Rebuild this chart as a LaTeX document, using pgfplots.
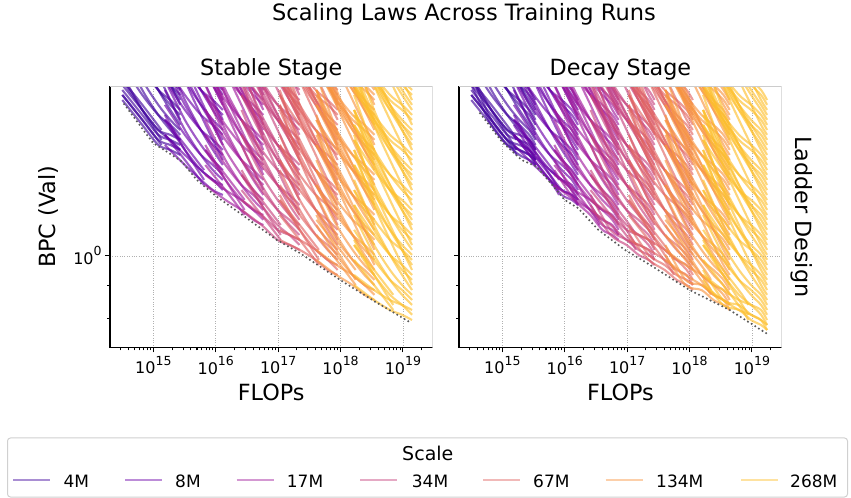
\documentclass[border=0pt]{standalone}
\usepackage{fontspec}
\setmainfont{DejaVu Sans}
\usepackage{pgfplots}
\usepackage{pgfplotstable}
\pgfplotsset{compat=1.18}

\definecolor{cA}{HTML}{41049D}
\definecolor{cB}{HTML}{6A00A8}
\definecolor{cC}{HTML}{A01A9C}
\definecolor{cD}{HTML}{C6417D}
\definecolor{cE}{HTML}{E16462}
\definecolor{cF}{HTML}{F89540}
\definecolor{cG}{HTML}{FDBF2C}
\definecolor{spine}{HTML}{CCCCCC}
\definecolor{gridc}{HTML}{B0B0B0}
\definecolor{legb}{HTML}{D0D0D0}

\newcommand\tp[1]{10\raisebox{0.56em}{\fontsize{12.5bp}{12.5bp}\selectfont #1}}

% ---------- 4M ----------
\pgfplotstableread{
F r1 r2 r3 r4 r5 r6 r7 r8 r9 r10 r11 h1 h2
3.18e14 1.748 1.878 1.812 2.091 1.982 2.370 2.287 2.785 2.287 1.780 1.845 1.845 1.912
6.65e14 1.599 1.687 1.657 1.812 1.780 2.018 1.982 2.287 2.054 1.628 1.687 1.599 1.628
1.2e15 1.488 1.570 1.543 1.657 1.657 1.812 1.812 2.018 1.912 1.515 1.570 1.488 1.515
1.87e15 1.462 1.515 1.515 1.570 1.599 1.687 1.718 1.845 1.845 1.488 1.543 1.436 1.462
2.7e15 1.436 1.462 1.488 1.515 1.543 1.599 1.657 1.718 1.780 1.462 1.515 1.410 1.436
3.4e15 1.385 1.410 1.436 1.462 1.488 1.543 1.599 1.657 1.718 1.410 1.462 1.385 1.410
}\TA
\pgfplotstableread{
F n1 n2 n3 n4 n5
3.18e14 2.167 2.639 2.167 2.592 2.501
6.65e14 1.878 2.167 1.947 2.207 2.167
1.2e15 1.718 1.912 1.812 1.982 1.982
1.87e15 1.628 1.748 1.748 1.845 1.878
2.7e15 1.570 1.628 1.687 1.748 1.812
3.4e15 1.515 1.570 1.628 1.687 1.748
}\NA
\pgfplotstableread{
F a b c
3.18e14 1.780 1.912 1.878
6.65e14 1.628 1.687 1.718
1.35e15 1.488 1.515 1.570
1.69e15 1.436 1.462 1.515
}\SA
% ---------- 8M ----------
\pgfplotstableread{
F r1 r2 r3 r4 r5 r6 r7 r8 r9 r10 r11 r12 r13 h1 h2
1.53e15 1.488 1.628 1.543 1.812 1.718 2.054 1.982 2.413 1.982 2.370 2.287 2.785 2.639 1.543 1.599
3.2e15 1.385 1.462 1.436 1.570 1.543 1.748 1.718 1.982 1.780 2.018 1.982 2.287 2.246 1.410 1.436
5.78e15 1.313 1.360 1.360 1.436 1.436 1.570 1.570 1.748 1.657 1.812 1.812 2.018 2.018 1.313 1.337
9e15 1.266 1.313 1.313 1.360 1.385 1.462 1.488 1.599 1.599 1.687 1.718 1.845 1.878 1.244 1.266
1.3e16 1.244 1.266 1.289 1.313 1.337 1.385 1.436 1.488 1.543 1.599 1.657 1.718 1.780 1.222 1.244
1.63e16 1.200 1.222 1.244 1.266 1.289 1.337 1.385 1.436 1.488 1.543 1.599 1.657 1.718 1.200 1.222
}\TB
\pgfplotstableread{
F n1 n2 n3 n4 n5 n6 n7 n8 n9
1.53e15 1.878 2.287 1.878 2.246 2.167 2.639 2.167 2.592 2.501
3.2e15 1.628 1.878 1.687 1.912 1.878 2.167 1.947 2.207 2.167
5.78e15 1.488 1.657 1.570 1.718 1.718 1.912 1.812 1.982 1.982
9e15 1.410 1.515 1.515 1.599 1.628 1.748 1.748 1.845 1.878
1.3e16 1.360 1.410 1.462 1.515 1.570 1.628 1.687 1.748 1.812
1.63e16 1.313 1.360 1.410 1.462 1.515 1.570 1.628 1.687 1.748
}\NB
\pgfplotstableread{
F a b c
1.53e15 1.543 1.657 1.628
3.2e15 1.410 1.462 1.488
6.5e15 1.289 1.313 1.360
8.1e15 1.244 1.266 1.313
}\SB
% ---------- 17M ----------
\pgfplotstableread{
F r1 r2 r3 r4 r5 r6 r7 r8 r9 r10 r11 r12 r13 r14 r15 r16 h1 h2
6.8e15 1.289 1.462 1.337 1.628 1.543 1.845 1.780 2.167 1.780 2.129 2.054 2.501 2.370 2.129 2.370 2.886 1.360 1.410
1.43e16 1.222 1.313 1.266 1.410 1.385 1.570 1.543 1.780 1.599 1.812 1.780 2.054 2.018 1.912 2.054 2.370 1.222 1.244
2.58e16 1.179 1.222 1.222 1.289 1.289 1.410 1.410 1.570 1.488 1.628 1.628 1.812 1.812 1.780 1.878 2.091 1.158 1.179
4e16 1.138 1.179 1.179 1.222 1.244 1.313 1.337 1.436 1.436 1.515 1.543 1.657 1.687 1.718 1.780 1.912 1.098 1.117
5.8e16 1.117 1.138 1.158 1.179 1.200 1.244 1.289 1.337 1.385 1.436 1.488 1.543 1.599 1.657 1.718 1.780 1.078 1.098
7.3e16 1.078 1.098 1.117 1.138 1.158 1.200 1.244 1.289 1.337 1.385 1.436 1.488 1.543 1.599 1.657 1.718 1.059 1.078
}\TC
\pgfplotstableread{
F n1 n2 n3 n4 n5 n6 n7 n8 n9 n10 n11 n12
6.8e15 1.687 2.054 1.687 2.018 1.947 2.370 1.947 2.328 2.246 2.735 2.246 2.687
1.43e16 1.462 1.687 1.515 1.718 1.687 1.947 1.748 1.982 1.947 2.246 2.018 2.287
2.58e16 1.337 1.488 1.410 1.543 1.543 1.718 1.628 1.780 1.780 1.982 1.878 2.054
4e16 1.266 1.360 1.360 1.436 1.462 1.570 1.570 1.657 1.687 1.812 1.812 1.912
5.8e16 1.222 1.266 1.313 1.360 1.410 1.462 1.515 1.570 1.628 1.687 1.748 1.812
7.3e16 1.179 1.222 1.266 1.313 1.360 1.410 1.462 1.515 1.570 1.628 1.687 1.748
}\NC
\pgfplotstableread{
F a b c
6.8e15 1.385 1.488 1.462
1.43e16 1.266 1.313 1.337
2.9e16 1.158 1.179 1.222
3.6e16 1.117 1.138 1.179
}\SC
% ---------- 34M ----------
\pgfplotstableread{
F r1 r2 r3 r4 r5 r6 r7 r8 r9 r10 r11 r12 r13 r14 r15 r16 r17 r18 r19 h1 h2
2.59e16 1.179 1.337 1.222 1.488 1.410 1.687 1.628 1.982 1.628 1.947 1.878 2.287 2.167 1.947 2.167 2.639 2.501 2.413 2.328 1.200 1.244
5.42e16 1.117 1.200 1.158 1.289 1.266 1.436 1.410 1.628 1.462 1.657 1.628 1.878 1.845 1.748 1.878 2.167 2.129 2.091 2.091 1.078 1.098
9.8e16 1.059 1.117 1.098 1.179 1.179 1.289 1.289 1.436 1.360 1.488 1.488 1.657 1.657 1.628 1.718 1.912 1.912 1.912 1.947 1.040 1.059
1.52e17 1.040 1.078 1.078 1.117 1.138 1.200 1.222 1.313 1.313 1.385 1.410 1.515 1.543 1.570 1.628 1.748 1.780 1.812 1.878 1.004 1.022
2.2e17 1.022 1.040 1.059 1.078 1.098 1.138 1.179 1.222 1.266 1.313 1.360 1.410 1.462 1.515 1.570 1.628 1.687 1.748 1.812 0.986 1.004
2.75e17 0.986 1.004 1.022 1.040 1.059 1.098 1.138 1.179 1.222 1.266 1.313 1.360 1.410 1.462 1.515 1.570 1.628 1.687 1.748 0.968 0.986
}\TD
\pgfplotstableread{
F n1 n2 n3 n4 n5 n6 n7 n8 n9 n10 n11 n12 n13 n14
2.59e16 1.543 1.878 1.543 1.845 1.780 2.167 1.780 2.129 2.054 2.501 2.054 2.457 2.370 2.886
5.42e16 1.337 1.543 1.385 1.570 1.543 1.780 1.599 1.812 1.780 2.054 1.845 2.091 2.054 2.370
9.8e16 1.222 1.360 1.289 1.410 1.410 1.570 1.488 1.628 1.628 1.812 1.718 1.878 1.878 2.091
1.52e17 1.158 1.244 1.244 1.313 1.337 1.436 1.436 1.515 1.543 1.657 1.657 1.748 1.780 1.912
2.2e17 1.117 1.158 1.200 1.244 1.289 1.337 1.385 1.436 1.488 1.543 1.599 1.657 1.718 1.780
2.75e17 1.078 1.117 1.158 1.200 1.244 1.289 1.337 1.385 1.436 1.488 1.543 1.599 1.657 1.718
}\ND
\pgfplotstableread{
F a b c
2.59e16 1.266 1.360 1.337
5.42e16 1.158 1.200 1.222
1.1e17 1.059 1.078 1.117
1.38e17 1.022 1.040 1.078
}\SD
% ---------- 67M ----------
\pgfplotstableread{
F r1 r2 r3 r4 r5 r6 r7 r8 r9 r10 r11 r12 r13 r14 r15 r16 r17 r18 r19 r20 r21 h1 h2
1.06e17 1.059 1.222 1.098 1.360 1.289 1.543 1.488 1.812 1.488 1.780 1.718 2.091 1.982 1.780 1.982 2.413 2.287 2.207 2.129 2.785 2.639 1.078 1.117
2.22e17 1.022 1.098 1.059 1.179 1.158 1.313 1.289 1.488 1.337 1.515 1.488 1.718 1.687 1.599 1.718 1.982 1.947 1.912 1.912 2.287 2.246 0.986 1.004
4e17 0.986 1.022 1.022 1.078 1.078 1.179 1.179 1.313 1.244 1.360 1.360 1.515 1.515 1.488 1.570 1.748 1.748 1.748 1.780 2.018 2.018 0.951 0.968
6.2e17 0.951 0.986 0.986 1.022 1.040 1.098 1.117 1.200 1.200 1.266 1.289 1.385 1.410 1.436 1.488 1.599 1.628 1.657 1.718 1.845 1.878 0.918 0.934
9e17 0.934 0.951 0.968 0.986 1.004 1.040 1.078 1.117 1.158 1.200 1.244 1.289 1.337 1.385 1.436 1.488 1.543 1.599 1.657 1.718 1.780 0.901 0.918
1.13e18 0.901 0.918 0.934 0.951 0.968 1.004 1.040 1.078 1.117 1.158 1.200 1.244 1.289 1.337 1.385 1.436 1.488 1.543 1.599 1.657 1.718 0.885 0.901
}\TE
\pgfplotstableread{
F n1 n2 n3 n4 n5 n6 n7 n8 n9 n10 n11 n12 n13 n14 n15 n16 n17
1.06e17 1.410 1.718 1.410 1.687 1.628 1.982 1.628 1.947 1.878 2.287 1.878 2.246 2.167 2.639 2.167 2.592 2.501
2.22e17 1.222 1.410 1.266 1.436 1.410 1.628 1.462 1.657 1.628 1.878 1.687 1.912 1.878 2.167 1.947 2.207 2.167
4e17 1.117 1.244 1.179 1.289 1.289 1.436 1.360 1.488 1.488 1.657 1.570 1.718 1.718 1.912 1.812 1.982 1.982
6.2e17 1.059 1.138 1.138 1.200 1.222 1.313 1.313 1.385 1.410 1.515 1.515 1.599 1.628 1.748 1.748 1.845 1.878
9e17 1.022 1.059 1.098 1.138 1.179 1.222 1.266 1.313 1.360 1.410 1.462 1.515 1.570 1.628 1.687 1.748 1.812
1.13e18 0.986 1.022 1.059 1.098 1.138 1.179 1.222 1.266 1.313 1.360 1.410 1.462 1.515 1.570 1.628 1.687 1.748
}\NE
\pgfplotstableread{
F a b c
1.06e17 1.158 1.244 1.222
2.22e17 1.059 1.098 1.117
4.5e17 0.968 0.986 1.022
5.6e17 0.934 0.951 0.986
}\SE
% ---------- 134M ----------
\pgfplotstableread{
F r1 r2 r3 r4 r5 r6 r7 r8 r9 r10 r11 r12 r13 r14 r15 r16 r17 r18 r19 r20 r21 r22 r23 r24 h1 h2
4.1e17 0.986 1.117 1.022 1.244 1.179 1.410 1.360 1.657 1.360 1.628 1.570 1.912 1.812 1.628 1.812 2.207 2.091 2.018 1.947 2.546 2.413 2.328 2.246 2.687 1.004 1.040
8.6e17 0.934 1.004 0.968 1.078 1.059 1.200 1.179 1.360 1.222 1.385 1.360 1.570 1.543 1.462 1.570 1.812 1.780 1.748 1.748 2.091 2.054 2.018 2.018 2.287 0.901 0.918
1.56e18 0.901 0.934 0.934 0.986 0.986 1.078 1.078 1.200 1.138 1.244 1.244 1.385 1.385 1.360 1.436 1.599 1.599 1.599 1.628 1.845 1.845 1.845 1.878 2.054 0.885 0.901
2.42e18 0.870 0.901 0.901 0.934 0.951 1.004 1.022 1.098 1.098 1.158 1.179 1.266 1.289 1.313 1.360 1.462 1.488 1.515 1.570 1.687 1.718 1.748 1.812 1.912 0.854 0.870
3.5e18 0.854 0.870 0.885 0.901 0.918 0.951 0.986 1.022 1.059 1.098 1.138 1.179 1.222 1.266 1.313 1.360 1.410 1.462 1.515 1.570 1.628 1.687 1.748 1.812 0.839 0.854
4.4e18 0.824 0.839 0.854 0.870 0.885 0.918 0.951 0.986 1.022 1.059 1.098 1.138 1.179 1.222 1.266 1.313 1.360 1.410 1.462 1.515 1.570 1.628 1.687 1.748 0.824 0.839
}\TF
\pgfplotstableread{
F n1 n2 n3 n4 n5 n6 n7 n8 n9 n10 n11 n12 n13 n14 n15 n16 n17 n18 n19
4.1e17 1.289 1.570 1.289 1.543 1.488 1.812 1.488 1.780 1.718 2.091 1.718 2.054 1.982 2.413 1.982 2.370 2.287 2.785 2.287
8.6e17 1.117 1.289 1.158 1.313 1.289 1.488 1.337 1.515 1.488 1.718 1.543 1.748 1.718 1.982 1.780 2.018 1.982 2.287 2.054
1.56e18 1.022 1.138 1.078 1.179 1.179 1.313 1.244 1.360 1.360 1.515 1.436 1.570 1.570 1.748 1.657 1.812 1.812 2.018 1.912
2.42e18 0.968 1.040 1.040 1.098 1.117 1.200 1.200 1.266 1.289 1.385 1.385 1.462 1.488 1.599 1.599 1.687 1.718 1.845 1.845
3.5e18 0.934 0.968 1.004 1.040 1.078 1.117 1.158 1.200 1.244 1.289 1.337 1.385 1.436 1.488 1.543 1.599 1.657 1.718 1.780
4.4e18 0.901 0.934 0.968 1.004 1.040 1.078 1.117 1.158 1.200 1.244 1.289 1.337 1.385 1.436 1.488 1.543 1.599 1.657 1.718
}\NF
\pgfplotstableread{
F a b c
4.1e17 1.078 1.158 1.138
8.6e17 0.986 1.022 1.040
1.75e18 0.901 0.918 0.951
2.2e18 0.870 0.885 0.918
}\SF
% ---------- 268M ----------
\pgfplotstableread{
F r1 r2 r3 r4 r5 r6 r7 r8 r9 r10 r11 r12 r13 r14 r15 r16 r17 r18 r19 r20 r21 r22 r23 r24 r25 r26 h1 h2
1.65e18 0.901 1.040 0.934 1.158 1.098 1.313 1.266 1.543 1.266 1.515 1.462 1.780 1.687 1.515 1.687 2.054 1.947 1.878 1.812 2.370 2.246 2.167 2.091 2.501 2.835 2.501 0.918 0.951
3.45e18 0.854 0.934 0.885 1.004 0.986 1.117 1.098 1.266 1.138 1.289 1.266 1.462 1.436 1.360 1.462 1.687 1.657 1.628 1.628 1.947 1.912 1.878 1.878 2.129 2.328 2.167 0.839 0.854
6.2e18 0.824 0.870 0.854 0.918 0.918 1.004 1.004 1.117 1.059 1.158 1.158 1.289 1.289 1.266 1.337 1.488 1.488 1.488 1.515 1.718 1.718 1.718 1.748 1.912 2.054 1.982 0.824 0.839
9.7e18 0.810 0.839 0.839 0.870 0.885 0.934 0.951 1.022 1.022 1.078 1.098 1.179 1.200 1.222 1.266 1.360 1.385 1.410 1.462 1.570 1.599 1.628 1.687 1.780 1.878 1.878 0.795 0.810
1.4e19 0.795 0.810 0.824 0.839 0.854 0.885 0.918 0.951 0.986 1.022 1.059 1.098 1.138 1.179 1.222 1.266 1.313 1.360 1.410 1.462 1.515 1.570 1.628 1.687 1.748 1.812 0.781 0.795
1.75e19 0.767 0.781 0.795 0.810 0.824 0.854 0.885 0.918 0.951 0.986 1.022 1.059 1.098 1.138 1.179 1.222 1.266 1.313 1.360 1.410 1.462 1.515 1.570 1.628 1.687 1.748 0.767 0.781
}\TG
\pgfplotstableread{
F n1 n2 n3 n4 n5 n6 n7 n8 n9 n10 n11 n12 n13 n14 n15 n16 n17 n18 n19 n20 n21
1.65e18 1.200 1.462 1.200 1.436 1.385 1.687 1.385 1.657 1.599 1.947 1.599 1.912 1.845 2.246 1.845 2.207 2.129 2.592 2.129 2.546 2.457
3.45e18 1.040 1.200 1.078 1.222 1.200 1.385 1.244 1.410 1.385 1.599 1.436 1.628 1.599 1.845 1.657 1.878 1.845 2.129 1.912 2.167 2.129
6.2e18 0.951 1.059 1.004 1.098 1.098 1.222 1.158 1.266 1.266 1.410 1.337 1.462 1.462 1.628 1.543 1.687 1.687 1.878 1.780 1.947 1.947
9.7e18 0.901 0.968 0.968 1.022 1.040 1.117 1.117 1.179 1.200 1.289 1.289 1.360 1.385 1.488 1.488 1.570 1.599 1.718 1.718 1.812 1.845
1.4e19 0.870 0.901 0.934 0.968 1.004 1.040 1.078 1.117 1.158 1.200 1.244 1.289 1.337 1.385 1.436 1.488 1.543 1.599 1.657 1.718 1.780
1.75e19 0.839 0.870 0.901 0.934 0.968 1.004 1.040 1.078 1.117 1.158 1.200 1.244 1.289 1.337 1.385 1.436 1.488 1.543 1.599 1.657 1.718
}\NG
\pgfplotstableread{
F a b c
1.65e18 0.986 1.059 1.040
3.45e18 0.901 0.934 0.951
7e18 0.824 0.839 0.870
8.75e18 0.795 0.810 0.839
}\SG

\pgfplotsset{
  myrun/.style={smooth, tension=0.5, no marks, line width=2.1bp, draw opacity=0.64, forget plot},
  myfront/.style={sharp plot, no marks, color=black!65, line width=2.3bp, line cap=round,
                dash pattern=on 0bp off 4.3bp, forget plot},
  mainopt/.style={}, shortopt/.style={},
  every axis/.append style={
    scale only axis, width=322.5bp, height=261.5bp,
    xmin=2.02e14, xmax=2.98e19, ymin=0.7205, ymax=1.838,
    axis x line*=bottom, axis y line*=left,
    axis line style={-, black, line width=1.1bp},
    tick align=outside, major tick length=4.9bp, minor tick length=2.8bp,
    tick style={black, line width=1.1bp},
    xtick={1e15,1e16,1e17,1e18,1e19},
    xticklabels={\tp{15},\tp{16},\tp{17},\tp{18},\tp{19}},
    minor xtick={3e14,4e14,5e14,6e14,7e14,8e14,9e14,
      2e15,3e15,4e15,5e15,6e15,7e15,8e15,9e15,
      2e16,3e16,4e16,5e16,6e16,7e16,8e16,9e16,
      2e17,3e17,4e17,5e17,6e17,7e17,8e17,9e17,
      2e18,3e18,4e18,5e18,6e18,7e18,8e18,9e18,2e19},
    ytick={1}, minor ytick={0.8,0.9},
    ticklabel style={font=\fontsize{16bp}{19bp}\selectfont},
    xmajorgrids, ymajorgrids,
    major grid style={dotted, gridc, line width=0.8bp},
  }
}

\newcommand\colruns[5]{% #1 n, #2 colour, #3 table, #4 column prefix, #5 style
  \pgfplotsinvokeforeach{1,...,#1}{\addplot[myrun,#2,#5] table[x=F,y=#4##1]{#3};}%
}
\newcommand\shortruns[2]{%
  \pgfplotsinvokeforeach{a,b,c}{\addplot[myrun,#1,shortopt] table[x=F,y=##1]{#2};}%
}
\newcommand\onescale[7]{% #1 colour, #2 main, #3 n main, #4 new, #5 n new, #6 short, #7 flag
  \colruns{#3}{#1}{#2}{r}{mainopt}%
  \colruns{#5}{#1}{#4}{n}{mainopt}%
  \shortruns{#1}{#6}%
  \ifnum#7=1 \colruns{2}{#1}{#2}{h}{mainopt}\fi
}
\newcommand\drawruns[1]{%
  \onescale{cA}{\TA}{11}{\NA}{5}{\SA}{#1}%
  \onescale{cB}{\TB}{13}{\NB}{9}{\SB}{#1}%
  \onescale{cC}{\TC}{16}{\NC}{12}{\SC}{#1}%
  \onescale{cD}{\TD}{19}{\ND}{14}{\SD}{#1}%
  \onescale{cE}{\TE}{21}{\NE}{17}{\SE}{#1}%
  \onescale{cF}{\TF}{24}{\NF}{19}{\SF}{#1}%
  \onescale{cG}{\TG}{26}{\NG}{21}{\SG}{#1}%
}

\newcommand\legf{\fontsize{17bp}{20bp}\selectfont}
\newcommand\labf{\fontsize{22.3bp}{26bp}\selectfont}

\begin{document}
\begin{tikzpicture}
\path[use as bounding box] (0,0) rectangle (851bp,498bp);

\pgfplotsset{mainopt/.style={skip coords between index={5}{6}}, shortopt/.style={skip coords between index={3}{4}}}
\begin{loglogaxis}[anchor=south west, at={(110bp,150.5bp)}, yticklabels={\tp{0}}]
  \drawruns{0}
  \addplot[myfront] coordinates {(3.4e14,1.723) (6.9e14,1.570) (1e15,1.497) (1.64e15,1.453)
    (2.85e15,1.402) (4.97e15,1.313) (1.04e16,1.236) (2.45e16,1.165) (9.5e16,1.059)
    (2.24e17,1.010) (9.8e17,0.918) (3.57e18,0.849) (1.38e19,0.786)};
  \draw[spine, line width=1bp] (rel axis cs:0,1) -- (rel axis cs:1,1) -- (rel axis cs:1,0);
\end{loglogaxis}

\pgfplotsset{mainopt/.style={}, shortopt/.style={}}
\begin{loglogaxis}[anchor=south west, at={(459bp,150.5bp)}, yticklabels={}]
  \drawruns{1}
  \addplot[myfront] coordinates {(4.4e14,1.667) (9.8e14,1.506) (2.04e15,1.410) (3.55e15,1.377)
    (1e16,1.222) (1.65e16,1.186) (3.44e16,1.098) (9.2e16,1.022) (2.6e17,0.962)
    (1e18,0.885) (4.4e18,0.824) (1.7e19,0.758)};
  \draw[spine, line width=1bp] (rel axis cs:0,1) -- (rel axis cs:1,1) -- (rel axis cs:1,0);
\end{loglogaxis}

\node[anchor=base, font=\fontsize{22.5bp}{27bp}\selectfont] at (463.9bp,477.3bp) {Scaling Laws Across Training Runs};
\node[anchor=base, font=\labf] at (271.2bp,422bp) {Stable Stage};
\node[anchor=base, font=\labf] at (620.4bp,422bp) {Decay Stage};
\node[anchor=base, font=\labf] at (271.2bp,97.3bp) {FLOPs};
\node[anchor=base, font=\labf] at (620.4bp,97.3bp) {FLOPs};
\node[anchor=base, rotate=90, font=\labf] at (55.5bp,281.3bp) {BPC (Val)};
\node[anchor=base, rotate=-90, font=\labf] at (795bp,281.3bp) {Ladder Design};

% legend
\draw[legb, line width=1bp, rounded corners=3bp] (7.5bp,1bp) rectangle (847.5bp,60bp);
\node[anchor=base, font=\fontsize{19bp}{22bp}\selectfont] at (427.8bp,37.3bp) {Scale};
\draw[cA, draw opacity=0.45, line width=1.8bp] (13.3bp,18.3bp) -- (50.3bp,18.3bp);
\node[anchor=base west, inner sep=0pt, font=\legf] at (63.3bp,10.7bp) {4M};
\draw[cB, draw opacity=0.45, line width=1.8bp] (125bp,18.3bp) -- (162bp,18.3bp);
\node[anchor=base west, inner sep=0pt, font=\legf] at (175bp,10.7bp) {8M};
\draw[cC, draw opacity=0.45, line width=1.8bp] (236.7bp,18.3bp) -- (273.7bp,18.3bp);
\node[anchor=base west, inner sep=0pt, font=\legf] at (286.7bp,10.7bp) {17M};
\draw[cD, draw opacity=0.45, line width=1.8bp] (360bp,18.3bp) -- (397bp,18.3bp);
\node[anchor=base west, inner sep=0pt, font=\legf] at (411.7bp,10.7bp) {34M};
\draw[cE, draw opacity=0.45, line width=1.8bp] (483.3bp,18.3bp) -- (520.3bp,18.3bp);
\node[anchor=base west, inner sep=0pt, font=\legf] at (533bp,10.7bp) {67M};
\draw[cF, draw opacity=0.45, line width=1.8bp] (605.5bp,18.3bp) -- (642.5bp,18.3bp);
\node[anchor=base west, inner sep=0pt, font=\legf] at (656bp,10.7bp) {134M};
\draw[cG, draw opacity=0.45, line width=1.8bp] (741bp,18.3bp) -- (778bp,18.3bp);
\node[anchor=base west, inner sep=0pt, font=\legf] at (790bp,10.7bp) {268M};
\end{tikzpicture}
\end{document}
